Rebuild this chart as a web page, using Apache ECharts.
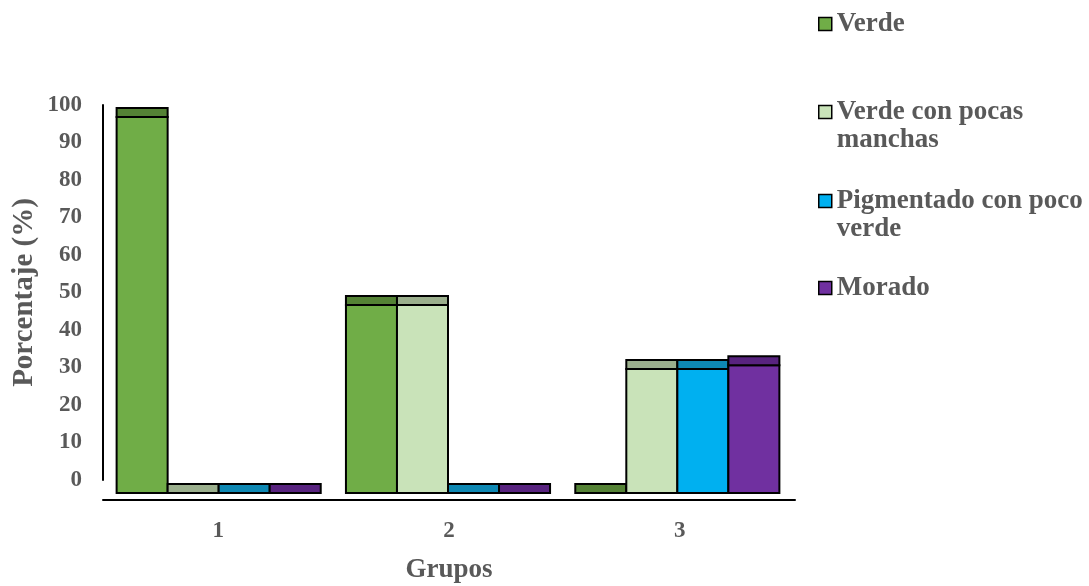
<!DOCTYPE html>
<html>
<head>
<meta charset="utf-8">
<style>
  html, body { margin: 0; padding: 0; background: #fff; }
  #chart { width: 1089px; height: 586px; }
</style>
<script src="https://cdn.jsdelivr.net/npm/echarts@6/dist/echarts.min.js"></script>
</head>
<body>
<div id="chart"></div>
<script>
// Groups on the x axis
const categories = ['1', '2', '3'];

// Percentage of each colour class per group
const verde = [100, 50, 0];
const verdeConPocas = [0, 50, 33];
const pigmentado = [0, 0, 33];
const morado = [0, 0, 34];

// Value-axis tick labels
const yTicks = [0, 10, 20, 30, 40, 50, 60, 70, 80, 90, 100];

const seriesNames = ['Verde', 'Verde con pocas manchas', 'Pigmentado con poco verde', 'Morado'];
// Wrapped legend text; the leading blank line keeps the first line level with the swatch
const legendLabels = ['Verde', ' \nVerde con pocas\nmanchas', ' \nPigmentado con poco\nverde', 'Morado'];
const seriesValues = [verde, verdeConPocas, pigmentado, morado];
const frontColors = ['#70AD47', '#C9E3B9', '#00B0F0', '#7030A0'];
const topColors = ['#548235', '#9BAF8D', '#0E88B3', '#58237F'];

const FONT = '"Liberation Serif", "Times New Roman", serif';
const TEXT = '#595959';
const TOP_DEPTH = 9;

// Column with a shaded top face, laid side by side inside each group
function makeRender(si) {
  return function (params, api) {
    const cat = api.value(0);
    const v = api.value(1);
    const base = api.coord([cat, 0]);
    const top = api.coord([cat, v]);
    const band = api.size([1, 0])[0];
    const bw = band * 0.2225;
    const x = base[0] + (si - 2) * bw;
    const line = { stroke: '#000', lineWidth: 2 };
    const children = [];
    if (base[1] - top[1] > 0.5) {
      children.push({
        type: 'rect',
        shape: { x: x, y: top[1], width: bw, height: base[1] - top[1] },
        style: Object.assign({ fill: frontColors[si] }, line)
      });
    }
    children.push({
      type: 'rect',
      shape: { x: x, y: top[1] - TOP_DEPTH, width: bw, height: TOP_DEPTH },
      style: Object.assign({ fill: topColors[si] }, line)
    });
    return { type: 'group', children: children };
  };
}

const series = seriesNames.map(function (name, si) {
  return {
    type: 'custom',
    name: name,
    xAxisIndex: 0,
    yAxisIndex: 0,
    itemStyle: { color: frontColors[si], borderColor: '#000', borderWidth: 1.5 },
    renderItem: makeRender(si),
    data: seriesValues[si].map(function (v, i) { return [i, v]; })
  };
});

const legendTops = [10, 70, 159, 274];
const legends = seriesNames.map(function (name, si) {
  return {
    data: [{ name: name, icon: 'rect' }],
    left: 818,
    top: legendTops[si],
    padding: 0,
    orient: 'vertical',
    itemWidth: 13,
    itemHeight: 13,
    itemGap: 0,
    selectedMode: false,
    itemStyle: { borderColor: '#000', borderWidth: 1.5 },
    formatter: function () { return legendLabels[si]; },
    textStyle: {
      fontFamily: FONT,
      fontWeight: 'bold',
      fontSize: 27,
      color: TEXT,
      lineHeight: 28
    }
  };
});

const chart = echarts.init(document.getElementById('chart'));
chart.setOption({
  animation: false,
  backgroundColor: '#fff',
  legend: legends,
  grid: [
    // columns
    { left: 104, right: 297, top: 117, bottom: 93, outerBoundsMode: 'none', containLabel: false },
    // value scale on the back wall
    { left: 103, right: 297, top: 105, bottom: 106, outerBoundsMode: 'none', containLabel: false },
    // floor line with group labels
    { left: 103, right: 294, top: 117, bottom: 86, outerBoundsMode: 'none', containLabel: false }
  ],
  xAxis: [
    {
      type: 'category',
      gridIndex: 0,
      data: categories,
      show: false
    },
    {
      type: 'category',
      gridIndex: 1,
      data: categories,
      show: false
    },
    {
      type: 'category',
      gridIndex: 2,
      data: categories,
      axisLine: { lineStyle: { color: '#000', width: 2 } },
      axisTick: { show: false },
      axisLabel: {
        margin: 20,
        fontFamily: FONT,
        fontWeight: 'bold',
        fontSize: 23,
        color: TEXT
      },
      name: 'Grupos',
      nameLocation: 'middle',
      nameGap: 57,
      nameMoveOverlap: false,
      nameTextStyle: {
        fontFamily: FONT,
        fontWeight: 'bold',
        fontSize: 27,
        color: TEXT
      }
    }
  ],
  yAxis: [
    {
      type: 'value',
      gridIndex: 0,
      min: 0,
      max: 100,
      show: false
    },
    {
      type: 'value',
      gridIndex: 1,
      min: 0,
      max: 100,
      interval: 10,
      axisLine: { show: true, lineStyle: { color: '#000', width: 2 } },
      axisTick: { show: false },
      splitLine: { show: false },
      axisLabel: {
        margin: 21,
        fontFamily: FONT,
        fontWeight: 'bold',
        fontSize: 23,
        color: TEXT,
        formatter: function (v) { return yTicks.indexOf(v) >= 0 ? String(v) : ''; }
      },
      name: 'Porcentaje (%)',
      nameLocation: 'middle',
      nameRotate: 90,
      nameGap: 64,
      nameMoveOverlap: false,
      nameTextStyle: {
        fontFamily: FONT,
        fontWeight: 'bold',
        fontSize: 29,
        color: TEXT
      }
    },
    {
      type: 'value',
      gridIndex: 2,
      min: 0,
      max: 100,
      show: false
    }
  ],
  series: series
});
</script>
</body>
</html>
